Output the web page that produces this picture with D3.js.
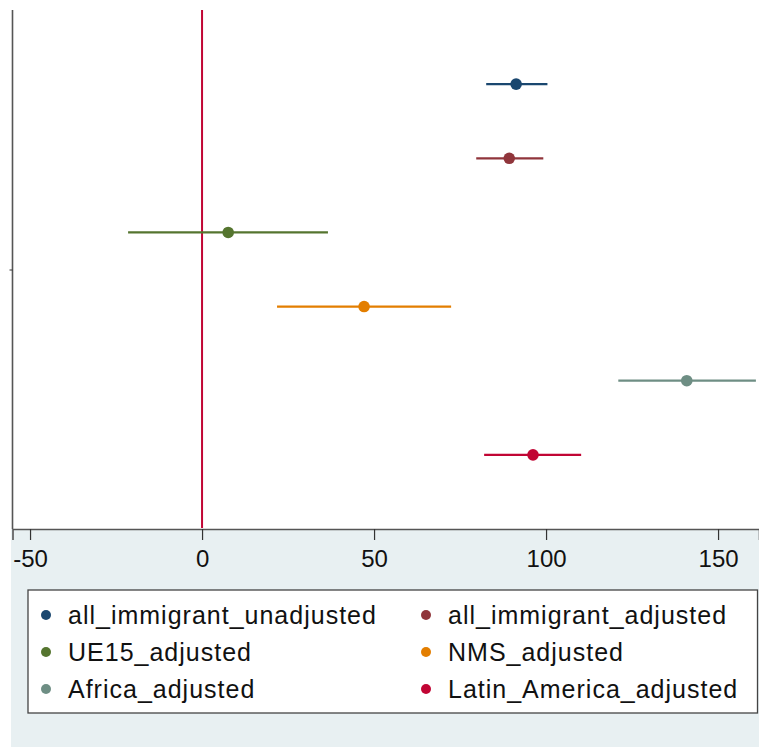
<!DOCTYPE html>
<html>
<head>
<meta charset="utf-8">
<script src="https://cdn.jsdelivr.net/npm/d3@7"></script>
<style>
  body { margin: 0; background: #fff; }
  svg { display: block; font-family: "Liberation Sans", Arial, sans-serif; }
</style>
</head>
<body>
<div id="chart"></div>
<script>
const W = 759, H = 747;

// coefficient estimates with 95% CI
const labels = ['all_immigrant_unadjusted', 'all_immigrant_adjusted', 'UE15_adjusted',
  'NMS_adjusted', 'Africa_adjusted', 'Latin_America_adjusted'];
const estimates = [91.3, 89.3, 7.6, 47.1, 140.9, 96.2];
const lower = [82.6, 79.7, -21.5, 21.8, 121.0, 82.0];
const upper = [100.4, 99.2, 36.6, 72.4, 161.0, 110.2];
const colors = ['#1a476f', '#90353b', '#55752f', '#e37e00', '#6e8e84', '#c10534'];
const xTicks = [-50, 0, 50, 100, 150];

const plot = { left: 12.5, right: W, top: 10, bottom: 529 };

const x = d3.scaleLinear().domain([-55.1, 161.9]).range([plot.left, plot.right]);
const y = d3.scaleLinear().domain([0, 7]).range([plot.top, plot.bottom]);

const svg = d3.select('#chart').append('svg')
  .attr('width', W).attr('height', H);

// outer graph region (the picture is cropped, only the lower band shows)
svg.append('rect')
  .attr('x', 11).attr('y', plot.bottom).attr('width', W - 11).attr('height', H - plot.bottom)
  .attr('fill', '#e8f0f2');

// x axis, plain hyphen for negatives like the original
const xAxis = svg.append('g')
  .attr('transform', `translate(0,${plot.bottom})`)
  .call(d3.axisBottom(x).tickValues(xTicks).tickSize(11).tickPadding(10).tickFormat(d => String(d)));
xAxis.select('.domain').attr('stroke', '#555').attr('stroke-width', 1.6);
xAxis.selectAll('.tick line').attr('stroke', '#333').attr('stroke-width', 1.2);
xAxis.selectAll('.tick text').attr('font-size', 24).attr('fill', '#111')
  .attr('font-family', '"Liberation Sans", Arial, sans-serif');

// y axis: one tick in the middle, no label
const yAxis = svg.append('g')
  .attr('transform', `translate(${plot.left},0)`)
  .call(d3.axisLeft(y).tickValues([3.5]).tickSize(3).tickFormat(''));
yAxis.select('.domain').attr('d', `M0,${plot.top}V${plot.bottom}`)
  .attr('stroke', '#555').attr('stroke-width', 1.6);
yAxis.selectAll('.tick line').attr('stroke', '#333');

// reference line at zero
svg.append('line')
  .attr('x1', x(0)).attr('x2', x(0))
  .attr('y1', plot.top).attr('y2', plot.bottom - 1)
  .attr('stroke', '#c10534').attr('stroke-width', 2);

// confidence intervals
const rows = labels.map((l, i) => ({ label: l, est: estimates[i], lo: lower[i], hi: upper[i], color: colors[i], pos: i + 1 }));

svg.append('g').selectAll('line')
  .data(rows)
  .join('line')
  .attr('x1', d => x(d.lo)).attr('x2', d => Math.min(x(d.hi), W - 2))
  .attr('y1', d => y(d.pos)).attr('y2', d => y(d.pos))
  .attr('stroke', d => d.color).attr('stroke-width', 2.2);

svg.append('g').selectAll('circle')
  .data(rows)
  .join('circle')
  .attr('cx', d => x(d.est)).attr('cy', d => y(d.pos))
  .attr('r', 5.8)
  .attr('fill', d => d.color);

// legend
const leg = svg.append('g');
leg.append('rect')
  .attr('x', 28).attr('y', 590).attr('width', 729.5).attr('height', 123)
  .attr('fill', '#fff').attr('stroke', '#444').attr('stroke-width', 1.3);

const item = leg.selectAll('g.item')
  .data(rows)
  .join('g')
  .attr('class', 'item')
  .attr('transform', (d, i) => `translate(${i % 2 === 0 ? 46 : 426},${615 + Math.floor(i / 2) * 37})`);
item.append('circle').attr('r', 5).attr('fill', d => d.color);
item.append('text')
  .attr('x', 22).attr('dy', '0.36em')
  .attr('font-size', 25).attr('letter-spacing', 1).attr('fill', '#111')
  .text(d => d.label);
</script>
</body>
</html>
